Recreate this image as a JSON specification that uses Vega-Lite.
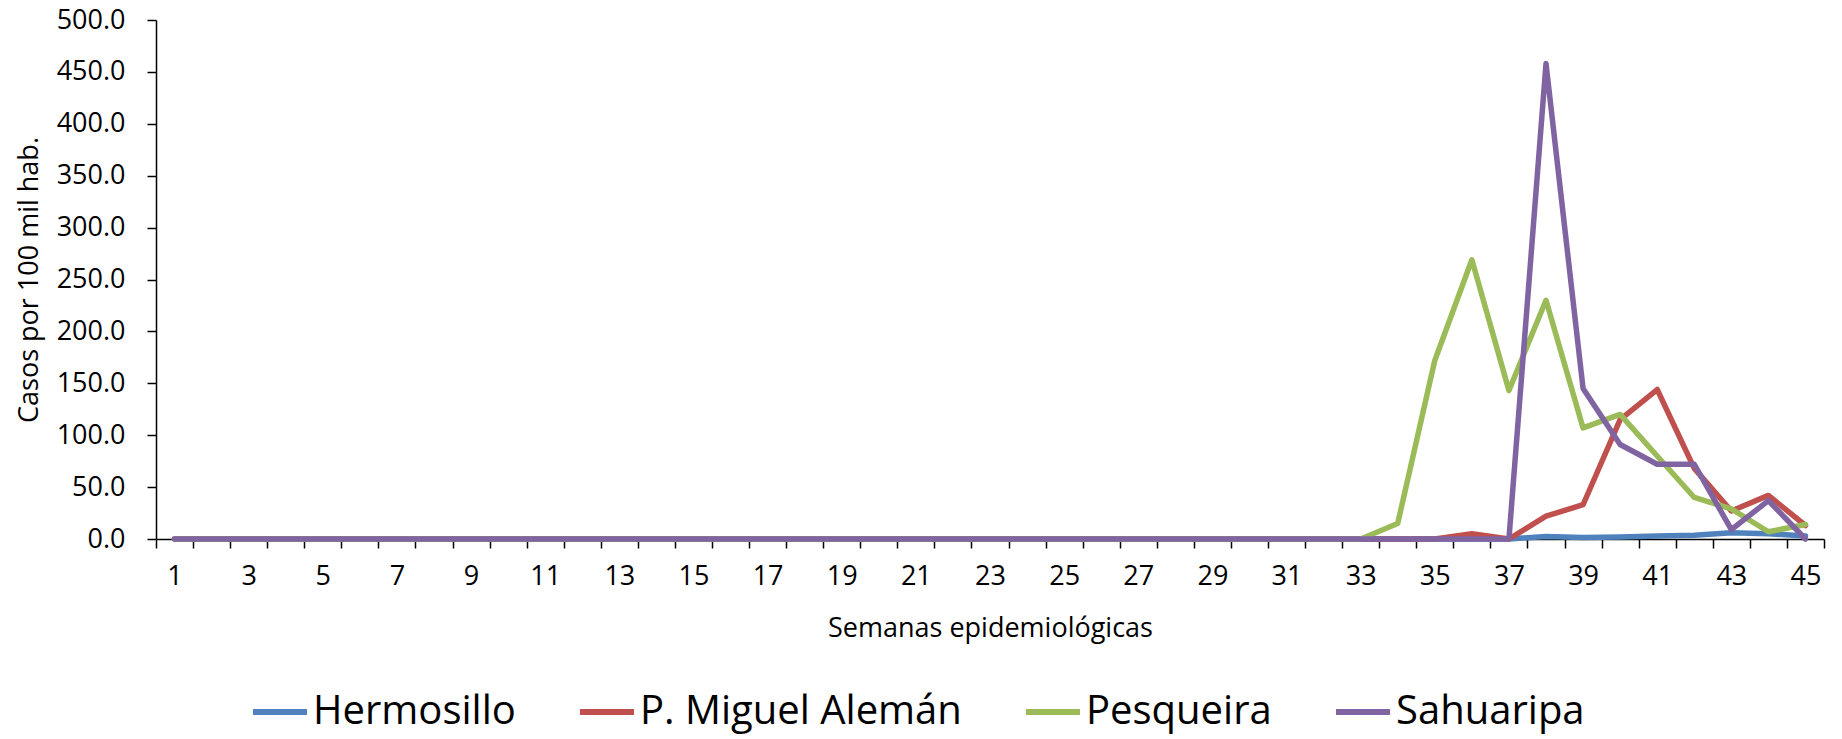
{
  "$schema": "https://vega.github.io/schema/vega-lite/v6.json",
  "width": 1668,
  "height": 519,
  "autosize": {"type": "none"},
  "padding": {"left": 156, "top": 20, "right": 18, "bottom": 200},
  "background": "white",
  "datasets": {
    "casos": [
      {"municipio": "Hermosillo", "semana": 1, "tasa": 0}, {"municipio": "Hermosillo", "semana": 2, "tasa": 0}, {"municipio": "Hermosillo", "semana": 3, "tasa": 0}, {"municipio": "Hermosillo", "semana": 4, "tasa": 0}, {"municipio": "Hermosillo", "semana": 5, "tasa": 0}, {"municipio": "Hermosillo", "semana": 6, "tasa": 0}, {"municipio": "Hermosillo", "semana": 7, "tasa": 0}, {"municipio": "Hermosillo", "semana": 8, "tasa": 0}, {"municipio": "Hermosillo", "semana": 9, "tasa": 0}, {"municipio": "Hermosillo", "semana": 10, "tasa": 0},
      {"municipio": "Hermosillo", "semana": 11, "tasa": 0}, {"municipio": "Hermosillo", "semana": 12, "tasa": 0}, {"municipio": "Hermosillo", "semana": 13, "tasa": 0}, {"municipio": "Hermosillo", "semana": 14, "tasa": 0}, {"municipio": "Hermosillo", "semana": 15, "tasa": 0}, {"municipio": "Hermosillo", "semana": 16, "tasa": 0}, {"municipio": "Hermosillo", "semana": 17, "tasa": 0}, {"municipio": "Hermosillo", "semana": 18, "tasa": 0}, {"municipio": "Hermosillo", "semana": 19, "tasa": 0}, {"municipio": "Hermosillo", "semana": 20, "tasa": 0},
      {"municipio": "Hermosillo", "semana": 21, "tasa": 0}, {"municipio": "Hermosillo", "semana": 22, "tasa": 0}, {"municipio": "Hermosillo", "semana": 23, "tasa": 0}, {"municipio": "Hermosillo", "semana": 24, "tasa": 0}, {"municipio": "Hermosillo", "semana": 25, "tasa": 0}, {"municipio": "Hermosillo", "semana": 26, "tasa": 0}, {"municipio": "Hermosillo", "semana": 27, "tasa": 0}, {"municipio": "Hermosillo", "semana": 28, "tasa": 0}, {"municipio": "Hermosillo", "semana": 29, "tasa": 0}, {"municipio": "Hermosillo", "semana": 30, "tasa": 0},
      {"municipio": "Hermosillo", "semana": 31, "tasa": 0}, {"municipio": "Hermosillo", "semana": 32, "tasa": 0}, {"municipio": "Hermosillo", "semana": 33, "tasa": 0}, {"municipio": "Hermosillo", "semana": 34, "tasa": 0}, {"municipio": "Hermosillo", "semana": 35, "tasa": 0}, {"municipio": "Hermosillo", "semana": 36, "tasa": 0}, {"municipio": "Hermosillo", "semana": 37, "tasa": 0}, {"municipio": "Hermosillo", "semana": 38, "tasa": 2.5}, {"municipio": "Hermosillo", "semana": 39, "tasa": 1.5}, {"municipio": "Hermosillo", "semana": 40, "tasa": 2},
      {"municipio": "Hermosillo", "semana": 41, "tasa": 3}, {"municipio": "Hermosillo", "semana": 42, "tasa": 3.5}, {"municipio": "Hermosillo", "semana": 43, "tasa": 6}, {"municipio": "Hermosillo", "semana": 44, "tasa": 5}, {"municipio": "Hermosillo", "semana": 45, "tasa": 3},

      {"municipio": "P. Miguel Alemán", "semana": 1, "tasa": 0}, {"municipio": "P. Miguel Alemán", "semana": 2, "tasa": 0}, {"municipio": "P. Miguel Alemán", "semana": 3, "tasa": 0}, {"municipio": "P. Miguel Alemán", "semana": 4, "tasa": 0}, {"municipio": "P. Miguel Alemán", "semana": 5, "tasa": 0}, {"municipio": "P. Miguel Alemán", "semana": 6, "tasa": 0}, {"municipio": "P. Miguel Alemán", "semana": 7, "tasa": 0}, {"municipio": "P. Miguel Alemán", "semana": 8, "tasa": 0}, {"municipio": "P. Miguel Alemán", "semana": 9, "tasa": 0}, {"municipio": "P. Miguel Alemán", "semana": 10, "tasa": 0},
      {"municipio": "P. Miguel Alemán", "semana": 11, "tasa": 0}, {"municipio": "P. Miguel Alemán", "semana": 12, "tasa": 0}, {"municipio": "P. Miguel Alemán", "semana": 13, "tasa": 0}, {"municipio": "P. Miguel Alemán", "semana": 14, "tasa": 0}, {"municipio": "P. Miguel Alemán", "semana": 15, "tasa": 0}, {"municipio": "P. Miguel Alemán", "semana": 16, "tasa": 0}, {"municipio": "P. Miguel Alemán", "semana": 17, "tasa": 0}, {"municipio": "P. Miguel Alemán", "semana": 18, "tasa": 0}, {"municipio": "P. Miguel Alemán", "semana": 19, "tasa": 0}, {"municipio": "P. Miguel Alemán", "semana": 20, "tasa": 0},
      {"municipio": "P. Miguel Alemán", "semana": 21, "tasa": 0}, {"municipio": "P. Miguel Alemán", "semana": 22, "tasa": 0}, {"municipio": "P. Miguel Alemán", "semana": 23, "tasa": 0}, {"municipio": "P. Miguel Alemán", "semana": 24, "tasa": 0}, {"municipio": "P. Miguel Alemán", "semana": 25, "tasa": 0}, {"municipio": "P. Miguel Alemán", "semana": 26, "tasa": 0}, {"municipio": "P. Miguel Alemán", "semana": 27, "tasa": 0}, {"municipio": "P. Miguel Alemán", "semana": 28, "tasa": 0}, {"municipio": "P. Miguel Alemán", "semana": 29, "tasa": 0}, {"municipio": "P. Miguel Alemán", "semana": 30, "tasa": 0},
      {"municipio": "P. Miguel Alemán", "semana": 31, "tasa": 0}, {"municipio": "P. Miguel Alemán", "semana": 32, "tasa": 0}, {"municipio": "P. Miguel Alemán", "semana": 33, "tasa": 0}, {"municipio": "P. Miguel Alemán", "semana": 34, "tasa": 0}, {"municipio": "P. Miguel Alemán", "semana": 35, "tasa": 0}, {"municipio": "P. Miguel Alemán", "semana": 36, "tasa": 5}, {"municipio": "P. Miguel Alemán", "semana": 37, "tasa": 0}, {"municipio": "P. Miguel Alemán", "semana": 38, "tasa": 22}, {"municipio": "P. Miguel Alemán", "semana": 39, "tasa": 33}, {"municipio": "P. Miguel Alemán", "semana": 40, "tasa": 115},
      {"municipio": "P. Miguel Alemán", "semana": 41, "tasa": 144}, {"municipio": "P. Miguel Alemán", "semana": 42, "tasa": 68}, {"municipio": "P. Miguel Alemán", "semana": 43, "tasa": 27}, {"municipio": "P. Miguel Alemán", "semana": 44, "tasa": 42}, {"municipio": "P. Miguel Alemán", "semana": 45, "tasa": 13},

      {"municipio": "Pesqueira", "semana": 1, "tasa": 0}, {"municipio": "Pesqueira", "semana": 2, "tasa": 0}, {"municipio": "Pesqueira", "semana": 3, "tasa": 0}, {"municipio": "Pesqueira", "semana": 4, "tasa": 0}, {"municipio": "Pesqueira", "semana": 5, "tasa": 0}, {"municipio": "Pesqueira", "semana": 6, "tasa": 0}, {"municipio": "Pesqueira", "semana": 7, "tasa": 0}, {"municipio": "Pesqueira", "semana": 8, "tasa": 0}, {"municipio": "Pesqueira", "semana": 9, "tasa": 0}, {"municipio": "Pesqueira", "semana": 10, "tasa": 0},
      {"municipio": "Pesqueira", "semana": 11, "tasa": 0}, {"municipio": "Pesqueira", "semana": 12, "tasa": 0}, {"municipio": "Pesqueira", "semana": 13, "tasa": 0}, {"municipio": "Pesqueira", "semana": 14, "tasa": 0}, {"municipio": "Pesqueira", "semana": 15, "tasa": 0}, {"municipio": "Pesqueira", "semana": 16, "tasa": 0}, {"municipio": "Pesqueira", "semana": 17, "tasa": 0}, {"municipio": "Pesqueira", "semana": 18, "tasa": 0}, {"municipio": "Pesqueira", "semana": 19, "tasa": 0}, {"municipio": "Pesqueira", "semana": 20, "tasa": 0},
      {"municipio": "Pesqueira", "semana": 21, "tasa": 0}, {"municipio": "Pesqueira", "semana": 22, "tasa": 0}, {"municipio": "Pesqueira", "semana": 23, "tasa": 0}, {"municipio": "Pesqueira", "semana": 24, "tasa": 0}, {"municipio": "Pesqueira", "semana": 25, "tasa": 0}, {"municipio": "Pesqueira", "semana": 26, "tasa": 0}, {"municipio": "Pesqueira", "semana": 27, "tasa": 0}, {"municipio": "Pesqueira", "semana": 28, "tasa": 0}, {"municipio": "Pesqueira", "semana": 29, "tasa": 0}, {"municipio": "Pesqueira", "semana": 30, "tasa": 0},
      {"municipio": "Pesqueira", "semana": 31, "tasa": 0}, {"municipio": "Pesqueira", "semana": 32, "tasa": 0}, {"municipio": "Pesqueira", "semana": 33, "tasa": 0}, {"municipio": "Pesqueira", "semana": 34, "tasa": 15}, {"municipio": "Pesqueira", "semana": 35, "tasa": 172}, {"municipio": "Pesqueira", "semana": 36, "tasa": 269}, {"municipio": "Pesqueira", "semana": 37, "tasa": 143}, {"municipio": "Pesqueira", "semana": 38, "tasa": 230}, {"municipio": "Pesqueira", "semana": 39, "tasa": 107}, {"municipio": "Pesqueira", "semana": 40, "tasa": 120},
      {"municipio": "Pesqueira", "semana": 41, "tasa": 80}, {"municipio": "Pesqueira", "semana": 42, "tasa": 40}, {"municipio": "Pesqueira", "semana": 43, "tasa": 29}, {"municipio": "Pesqueira", "semana": 44, "tasa": 7}, {"municipio": "Pesqueira", "semana": 45, "tasa": 14},

      {"municipio": "Sahuaripa", "semana": 1, "tasa": 0}, {"municipio": "Sahuaripa", "semana": 2, "tasa": 0}, {"municipio": "Sahuaripa", "semana": 3, "tasa": 0}, {"municipio": "Sahuaripa", "semana": 4, "tasa": 0}, {"municipio": "Sahuaripa", "semana": 5, "tasa": 0}, {"municipio": "Sahuaripa", "semana": 6, "tasa": 0}, {"municipio": "Sahuaripa", "semana": 7, "tasa": 0}, {"municipio": "Sahuaripa", "semana": 8, "tasa": 0}, {"municipio": "Sahuaripa", "semana": 9, "tasa": 0}, {"municipio": "Sahuaripa", "semana": 10, "tasa": 0},
      {"municipio": "Sahuaripa", "semana": 11, "tasa": 0}, {"municipio": "Sahuaripa", "semana": 12, "tasa": 0}, {"municipio": "Sahuaripa", "semana": 13, "tasa": 0}, {"municipio": "Sahuaripa", "semana": 14, "tasa": 0}, {"municipio": "Sahuaripa", "semana": 15, "tasa": 0}, {"municipio": "Sahuaripa", "semana": 16, "tasa": 0}, {"municipio": "Sahuaripa", "semana": 17, "tasa": 0}, {"municipio": "Sahuaripa", "semana": 18, "tasa": 0}, {"municipio": "Sahuaripa", "semana": 19, "tasa": 0}, {"municipio": "Sahuaripa", "semana": 20, "tasa": 0},
      {"municipio": "Sahuaripa", "semana": 21, "tasa": 0}, {"municipio": "Sahuaripa", "semana": 22, "tasa": 0}, {"municipio": "Sahuaripa", "semana": 23, "tasa": 0}, {"municipio": "Sahuaripa", "semana": 24, "tasa": 0}, {"municipio": "Sahuaripa", "semana": 25, "tasa": 0}, {"municipio": "Sahuaripa", "semana": 26, "tasa": 0}, {"municipio": "Sahuaripa", "semana": 27, "tasa": 0}, {"municipio": "Sahuaripa", "semana": 28, "tasa": 0}, {"municipio": "Sahuaripa", "semana": 29, "tasa": 0}, {"municipio": "Sahuaripa", "semana": 30, "tasa": 0},
      {"municipio": "Sahuaripa", "semana": 31, "tasa": 0}, {"municipio": "Sahuaripa", "semana": 32, "tasa": 0}, {"municipio": "Sahuaripa", "semana": 33, "tasa": 0}, {"municipio": "Sahuaripa", "semana": 34, "tasa": 0}, {"municipio": "Sahuaripa", "semana": 35, "tasa": 0}, {"municipio": "Sahuaripa", "semana": 36, "tasa": 0}, {"municipio": "Sahuaripa", "semana": 37, "tasa": 0}, {"municipio": "Sahuaripa", "semana": 38, "tasa": 458}, {"municipio": "Sahuaripa", "semana": 39, "tasa": 145}, {"municipio": "Sahuaripa", "semana": 40, "tasa": 91},
      {"municipio": "Sahuaripa", "semana": 41, "tasa": 72}, {"municipio": "Sahuaripa", "semana": 42, "tasa": 72}, {"municipio": "Sahuaripa", "semana": 43, "tasa": 9}, {"municipio": "Sahuaripa", "semana": 44, "tasa": 37}, {"municipio": "Sahuaripa", "semana": 45, "tasa": 0}
    ]
  },
  "data": {"name": "casos"},
  "mark": {"type": "line", "strokeWidth": 5.5, "strokeCap": "round", "strokeJoin": "round"},
  "encoding": {
    "x": {
      "field": "semana",
      "type": "ordinal",
      "bandPosition": 0.5,
      "scale": {"type": "band", "paddingInner": 0, "paddingOuter": 0},
      "axis": {
        "title": "Semanas epidemiológicas",
        "labelAngle": 0,
        "tickBand": "extent",
        "labelExpr": "datum.value % 2 == 1 ? datum.label : ''",
        "labelPadding": 15,
        "titlePadding": 26
      }
    },
    "y": {
      "field": "tasa",
      "type": "quantitative",
      "scale": {"domain": [0, 500], "nice": false},
      "axis": {
        "title": "Casos por 100 mil hab.",
        "values": [0, 50, 100, 150, 200, 250, 300, 350, 400, 450, 500],
        "format": ".1f",
        "grid": false,
        "labelPadding": 22,
        "titlePadding": 13
      }
    },
    "color": {
      "field": "municipio",
      "type": "nominal",
      "sort": ["Hermosillo", "P. Miguel Alemán", "Pesqueira", "Sahuaripa"],
      "scale": {
        "domain": ["Hermosillo", "P. Miguel Alemán", "Pesqueira", "Sahuaripa"],
        "range": ["#4F81BD", "#C0504D", "#9BBB59", "#8064A2"]
      },
      "legend": {
        "title": null,
        "orient": "none",
        "direction": "horizontal",
        "legendX": 94,
        "legendY": 662,
        "symbolType": "stroke",
        "symbolSize": 2916,
        "symbolStrokeWidth": 6,
        "labelFont": "Open Sans",
        "labelFontSize": 40,
        "labelColor": "black",
        "labelOffset": 3,
        "columnPadding": 52,
        "padding": 0,
        "labelLimit": 0
      }
    }
  },
  "config": {
    "view": {"stroke": null},
    "font": "Open Sans",
    "axis": {
      "labelFont": "Open Sans",
      "titleFont": "Open Sans",
      "labelFontSize": 27,
      "titleFontSize": 27,
      "titleFontWeight": "normal",
      "labelColor": "black",
      "titleColor": "black",
      "domainColor": "black",
      "tickColor": "black",
      "domainWidth": 1.5,
      "tickWidth": 1.5,
      "tickSize": 9
    }
  }
}
